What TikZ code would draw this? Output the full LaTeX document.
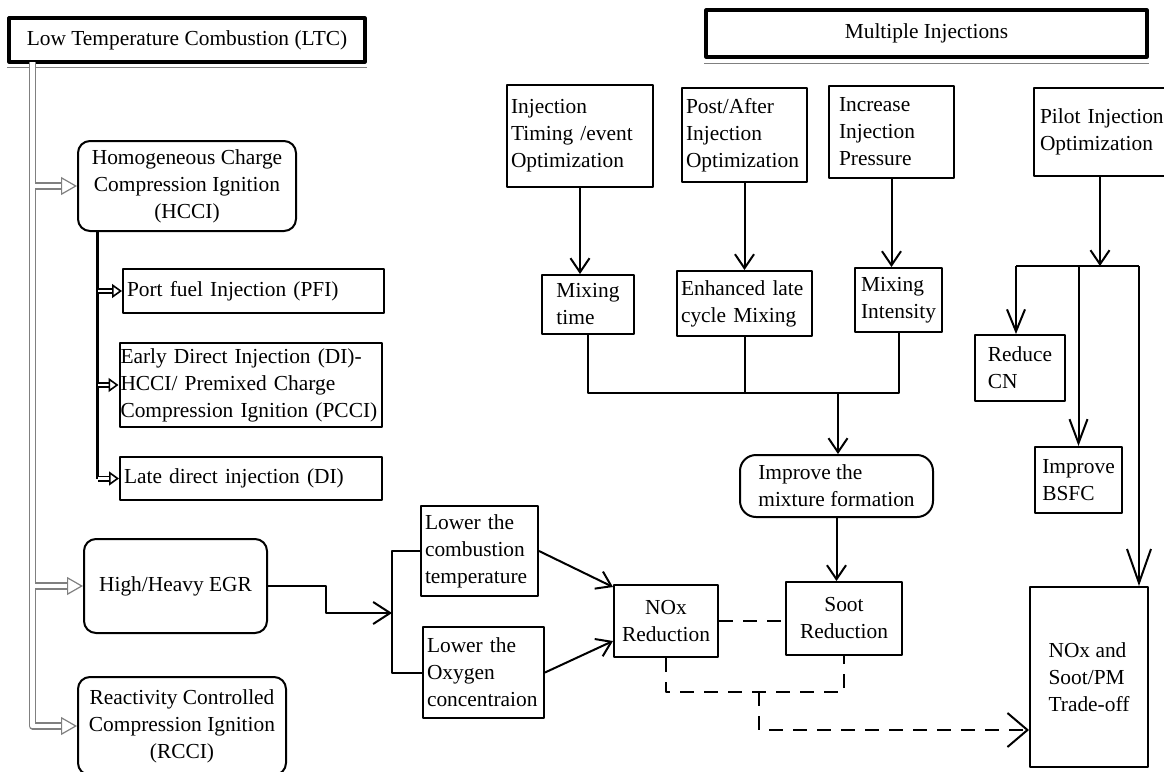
\documentclass[tikz,border=0pt]{standalone}
\usepackage{fontspec}
\setmainfont{Liberation Serif}
\usetikzlibrary{arrows.meta}
\tikzset{
  box/.style={draw,line width=1pt,inner xsep=2pt,inner ysep=2pt,align=left},
  cbox/.style={box,align=center},
  rbox/.style={box,rounded corners=6pt,align=center},
  titlebox/.style={draw,line width=1.6pt,align=center},
  line/.style={line width=1pt},
  arr/.style={line,-{Straight Barb[length=7pt,width=9.5pt]}},
  dline/.style={line,dash pattern=on 7pt off 5pt},
  trunk/.style={draw=gray,line width=.6pt,double=white,double distance=2.4pt,-{Triangle[open,length=8pt,width=9pt]}},
  harr/.style={line width=.8pt,double=white,double distance=1.4pt,-{Triangle[open,length=5pt,width=7pt]}},
  sz/.style 2 args={text width=#1,minimum height=#2},
  mn/.style 2 args={minimum width=#1,minimum height=#2},
}
\begin{document}
\hyphenpenalty=10000 \exhyphenpenalty=10000
\begin{tikzpicture}[x=.5pt,y=-.5pt,font=\fontsize{10.7}{13.5}\selectfont,line join=round]
\useasboundingbox (0,0) rectangle (1164,772);
% headings
\node[titlebox,mn={178pt}{22pt}] (ltc) at (187,40) {Low Temperature Combustion (LTC)};
\node[titlebox,mn={220.5pt}{23.5pt}] (multi) at (926.5,33.5) {Multiple Injections};
\draw[gray,line width=.8pt] ([yshift=-2pt]ltc.south west) -- ([yshift=-2pt]ltc.south east);
\draw[gray,line width=.8pt] ([yshift=-2.5pt]multi.south west) -- ([yshift=-2.5pt]multi.south east);
% LTC side
\node[rbox,mn={109pt}{45pt}] (hcci) at (187,186) {Homogeneous Charge\\Compression Ignition\\(HCCI)};
\node[box,sz={126.5pt}{22pt}] (pfi) at (253.5,291) {Port fuel Injection (PFI)};
\node[box,inner xsep=.5pt,sz={130pt}{42pt}] (edi) at (250.5,385) {Early Direct Injection (DI)-\\HCCI/ Premixed Charge\\Compression Ignition (PCCI)};
\node[box,sz={127pt}{21.5pt}] (ldi) at (251,478.5) {Late direct injection (DI)};
\node[rbox,mn={91.5pt}{47pt}] (egr) at (175.5,586) {High/Heavy EGR};
\node[rbox,mn={104pt}{49pt}] (rcci) at (182,726) {Reactivity Controlled\\Compression Ignition\\(RCCI)};
\node[box,sz={54.5pt}{45pt}] (lct) at (479.5,551) {Lower the\\combustion\\temperature};
\node[box,sz={56.5pt}{45.5pt}] (lox) at (483.5,672.5) {Lower the\\Oxygen\\concentraion};
\node[cbox,mn={52pt}{36pt}] (nox) at (666,621) {NOx\\Reduction};
\node[cbox,mn={58pt}{36.5pt}] (soot) at (844,618.5) {Soot\\Reduction};
\node[box,mn={59pt}{90pt}] (trade) at (1089,677) {NOx and\\Soot/PM\\Trade-off};
% multiple injections side
\node[box,sz={69pt}{51pt}] (inj) at (580,136) {Injection\\Timing /event\\Optimization};
\node[box,sz={58.5pt}{47pt}] (post) at (744.5,135) {Post/After\\Injection\\Optimization};
\node[box,inner xsep=5pt,sz={52.5pt}{46pt}] (incr) at (891.5,132) {Increase\\Injection\\Pressure};
\node[box,inner xsep=3pt,sz={66pt}{44pt}] (pilot) at (1106,132) {Pilot Injection\\Optimization};
\node[box,mn={46pt}{29.5pt}] (mtime) at (588,304.5) {Mixing\\time};
\node[box,sz={63.5pt}{32.5pt}] (enh) at (744.5,303.5) {Enhanced late\\cycle Mixing};
\node[box,mn={43.5pt}{32pt}] (mint) at (898.5,300) {Mixing\\Intensity};
\node[box,rounded corners=8pt,mn={96.5pt}{31pt}] (impr) at (836.5,486) {Improve the\\mixture formation};
\node[box,mn={45pt}{33pt}] (rcn) at (1020,368) {Reduce\\CN};
\node[box,mn={43.5pt}{33pt}] (bsfc) at (1078.5,480) {Improve\\BSFC};
% trunk of LTC
\coordinate (tr) at (32.5,62);
\draw[trunk] (tr) |- (rcci.west);
\draw[trunk] ([xshift=1.2pt]tr |- hcci.west) -- (hcci.west);
\draw[trunk] ([xshift=1.2pt]tr |- egr.west) -- (egr.west);
% HCCI variants
\coordinate (h0) at (97,231);
\draw[line width=1.5pt] (h0) -- (h0 |- ldi.west);
\foreach \n in {pfi,edi,ldi}
  \draw[harr] ([xshift=.7pt]h0 |- \n.west) -- (\n.west);
% EGR
\coordinate (eb) at (392,613);
\draw[arr,-{Straight Barb[length=8.5pt,width=11pt]}] (egr.east) -- ++(58,0) |- (eb);
\draw[line] (lct.west) -| (eb) |- (lox.west);
\draw[arr] (lct.east) -- ([yshift=-1.5pt]nox.north west);
\draw[arr] (lox.east) -- ([yshift=8.5pt]nox.south west);
% trade-off
\draw[dline] (nox.east) -- (nox.east -| soot.west);
\coordinate (db) at (759,692);
\draw[dline] (nox.south) |- (db) -| (soot.south);
\draw[dline,arr,-{Straight Barb[length=10pt,width=17pt]}] (db) |- ([yshift=-26.5pt]trade.west);
% injection strategies
\draw[arr] (inj.south) -- (inj.south |- mtime.north);
\draw[arr] (post.south) -- (post.south |- enh.north);
\draw[arr] (incr.south) -- (incr.south |- mint.north);
\coordinate (mj) at (838,393);
\draw[line] (mtime.south) |- (mj -| mint.south) -- (mint.south);
\draw[line] (enh.south) -- (enh.south |- mj);
\draw[arr] (mj) -- (mj |- impr.north);
\draw[arr] (impr.south) -- (impr.south |- soot.north);
% pilot
\coordinate (pj) at (1100,266);
\coordinate (pl) at (1016,266);
\coordinate (pr) at (1139,266);
\draw[arr] (pilot.south -| pj) -- (pj);
\draw[line] (pl) -- (pr);
\draw[arr,-{Straight Barb[length=11pt,width=9pt]}] (pl) -- (pl |- rcn.north);
\draw[arr,-{Straight Barb[length=12pt,width=9pt]}] (bsfc.north |- pl) -- (bsfc.north);
\draw[arr,-{Straight Barb[length=17pt,width=12pt]}] (pr) -- (pr |- trade.north);
\end{tikzpicture}
\end{document}
